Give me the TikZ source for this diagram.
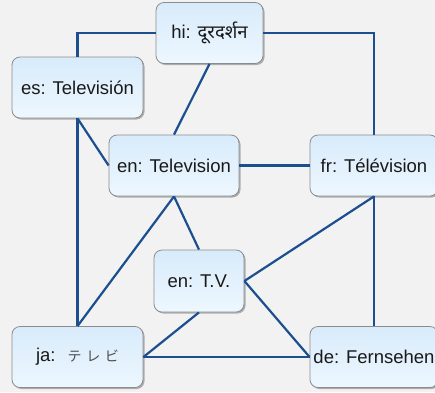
\documentclass[tikz,border=0pt]{standalone}
\usepackage{fontspec}
\setmainfont{Liberation Sans}
\newfontfamily\hindifont[Script=Devanagari]{Noto Sans}
\newfontfamily\jafont{Noto Sans CJK JP}
\usetikzlibrary{shadows}
\definecolor{linkblue}{HTML}{1B4F8F}
\definecolor{boxtop}{HTML}{D8EBFB}
\definecolor{boxbot}{HTML}{EDF7FE}
\definecolor{boxline}{HTML}{8C8C8C}
\definecolor{bggray}{HTML}{F2F2F2}

\begin{document}
\begin{tikzpicture}[x=1pt, y=-1pt,
	term/.style={rounded corners=8pt, draw=boxline, line width=0.8pt,
		top color=boxtop, bottom color=boxbot,
		drop shadow={shadow xshift=1.5pt, shadow yshift=-1.5pt, fill=black!50, opacity=0.6},
		minimum height=61pt, inner sep=1pt, font=\fontsize{18.5}{22}\selectfont, text=black!90},
	link/.style={draw=linkblue, line width=2.2pt}]
	\fill[bggray] (0,0) rectangle (435,392);
	\useasboundingbox (0,0) rectangle (435,392);
	% terms
	\node[term, minimum width=107pt] (hi) at (209.5,33) {hi: {\hindifont दूरदर्शन}};
	\node[term, minimum width=131pt] (es) at (77.5,87.5) {es: Televisión};
	\node[term, minimum width=130pt] (entv) at (174,165.5) {en: Television};
	\node[term, minimum width=128pt] (fr) at (374,165.5) {fr: Télévision};
	\node[term, minimum width=90pt, minimum height=62pt] (tv) at (199,281) {en: T.V.};
	\node[term, minimum width=131pt] (ja) at (77.5,357) {ja: \ {\jafont\fontsize{14}{16}\selectfont\color{black!70}テ\,\,レ\,\,ビ}};
	\node[term, minimum width=128pt] (de) at (374,357) {de: Fernsehen};
	% links
	\draw[link] (hi.west) -| (es.north);
	\draw[link] (hi.east) -| (fr.north);
	\draw[link] (hi.south) -- (entv.north);
	\draw[link] (es.south) -- (ja.north);
	\draw[link] (es.south) -- (entv.west);
	\draw[link] (entv.east) -- (fr.west);
	\draw[link] (entv.south) -- (ja.north);
	\draw[link] (entv.south) -- (tv.north);
	\draw[link] (fr.south) -- (tv.east);
	\draw[link] (fr.south) -- (de.north);
	\draw[link] (tv.south) -- (ja.east);
	\draw[link] (tv.east) -- (de.west);
	\draw[link] (ja.east) -- (de.west);
\end{tikzpicture}
\end{document}
